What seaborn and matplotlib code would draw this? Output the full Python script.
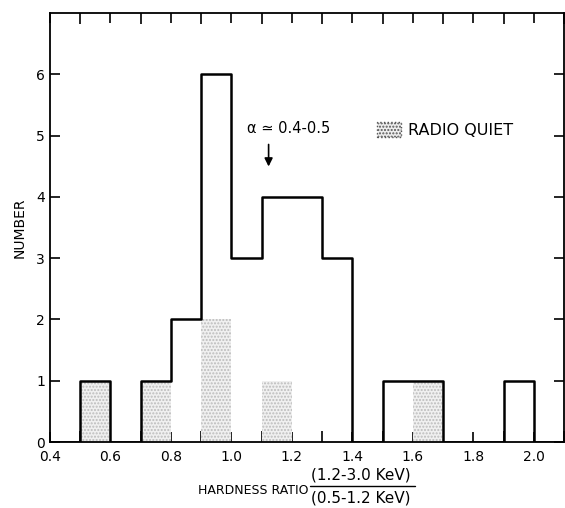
import numpy as np
import pandas as pd
import matplotlib
matplotlib.use("Agg")
import matplotlib.pyplot as plt
import seaborn as sns
from matplotlib.patches import Patch
from matplotlib.ticker import MultipleLocator
from matplotlib.lines import Line2D

# Data
bin_edges = [0.4, 0.5, 0.6, 0.7, 0.8, 0.9, 1.0, 1.1, 1.2, 1.3, 1.4, 1.5, 1.6, 1.7, 1.8, 1.9, 2.0, 2.1]
all_counts = [0, 1, 0, 1, 2, 6, 3, 4, 4, 3, 0, 1, 1, 0, 0, 1, 0]
radio_quiet_counts = [0, 1, 0, 1, 0, 2, 0, 1, 0, 0, 0, 0, 1, 0, 0, 0, 0]
x_tick_labels = ["0.4", "0.6", "0.8", "1.0", "1.2", "1.4", "1.6", "1.8", "2.0"]
y_tick_labels = ["0", "1", "2", "3", "4", "5", "6"]

centers = [(a + b) / 2 for a, b in zip(bin_edges[:-1], bin_edges[1:])]
df = pd.DataFrame({"ratio": centers, "all": all_counts, "quiet": radio_quiet_counts})

sns.set_style("ticks")
plt.rcParams["font.family"] = ["DejaVu Sans"]
plt.rcParams["hatch.linewidth"] = 1.0
plt.rcParams["text.color"] = "black"
plt.rcParams["axes.labelcolor"] = "black"

fig = plt.figure(figsize=(5.65, 5.08), dpi=100)
ax = fig.add_axes([50 / 565, 66 / 508, 514 / 565, 429 / 508])

# shaded radio quiet bars
sns.histplot(data=df, x="ratio", weights="quiet", bins=bin_edges, element="bars",
             fill=True, color="#ebebeb", alpha=1, linewidth=0, ax=ax)
for p in ax.patches:
    p.set_facecolor("#f0f0f0")
    p.set_edgecolor("#bcbcbc")
    p.set_linewidth(0)
    p.set_hatch(".....")

# outline of all
sns.histplot(data=df, x="ratio", weights="all", bins=bin_edges, element="step",
             fill=False, color="black", linewidth=1.8, ax=ax)

ax.set_xlim(0.4, 2.1)
ax.set_ylim(0, 7)
ax.set_xticks([float(t) for t in x_tick_labels])
ax.set_xticklabels(x_tick_labels)
ax.xaxis.set_minor_locator(MultipleLocator(0.1))
ax.set_yticks(range(len(y_tick_labels)))
ax.set_yticklabels(y_tick_labels)
ax.tick_params(axis="both", which="both", direction="in", top=True, right=True,
               labelsize=10, width=1.2, colors="black")
ax.tick_params(axis="both", which="major", length=7)
ax.tick_params(axis="x", which="minor", length=8)
ax.tick_params(axis="x", pad=6)
for s in ax.spines.values():
    s.set_linewidth(1.3)
    s.set_color("black")
ax.set_xlabel("")
ax.set_ylabel("NUMBER", fontsize=10, labelpad=7, color="black")

# annotation
ax.text(1.19, 5.12, "α ≃ 0.4-0.5", ha="center", va="center", fontsize=10.5, color="black")
ax.annotate("", xy=(1.123, 4.45), xytext=(1.123, 4.9),
            arrowprops=dict(arrowstyle="-|>", color="black", lw=1.2, mutation_scale=12))

# legend
leg = ax.legend(handles=[Patch(facecolor="#eeeeee", edgecolor="#555555", hatch=".....",
                               linestyle=":", linewidth=1.0, label="RADIO QUIET")],
                loc="center left", bbox_to_anchor=(313 / 514, 1 - (130 - 13) / 429),
                frameon=False, fontsize=11.5, handlelength=1.5, handleheight=1.1,
                handletextpad=0.4, labelcolor="black")

# x label with fraction
fig.text(253 / 565, 1 - 491 / 508, "HARDNESS RATIO", ha="center", va="center", fontsize=9)
fig.text(361 / 565, 1 - 475 / 508, "(1.2-3.0 KeV)", ha="center", va="center", fontsize=11)
fig.text(361 / 565, 1 - 498 / 508, "(0.5-1.2 KeV)", ha="center", va="center", fontsize=11)
fig.add_artist(Line2D([310 / 565, 415 / 565], [1 - 486 / 508, 1 - 486 / 508],
                      color="black", lw=1.0, transform=fig.transFigure))

fig.savefig("out.png", dpi=100)
